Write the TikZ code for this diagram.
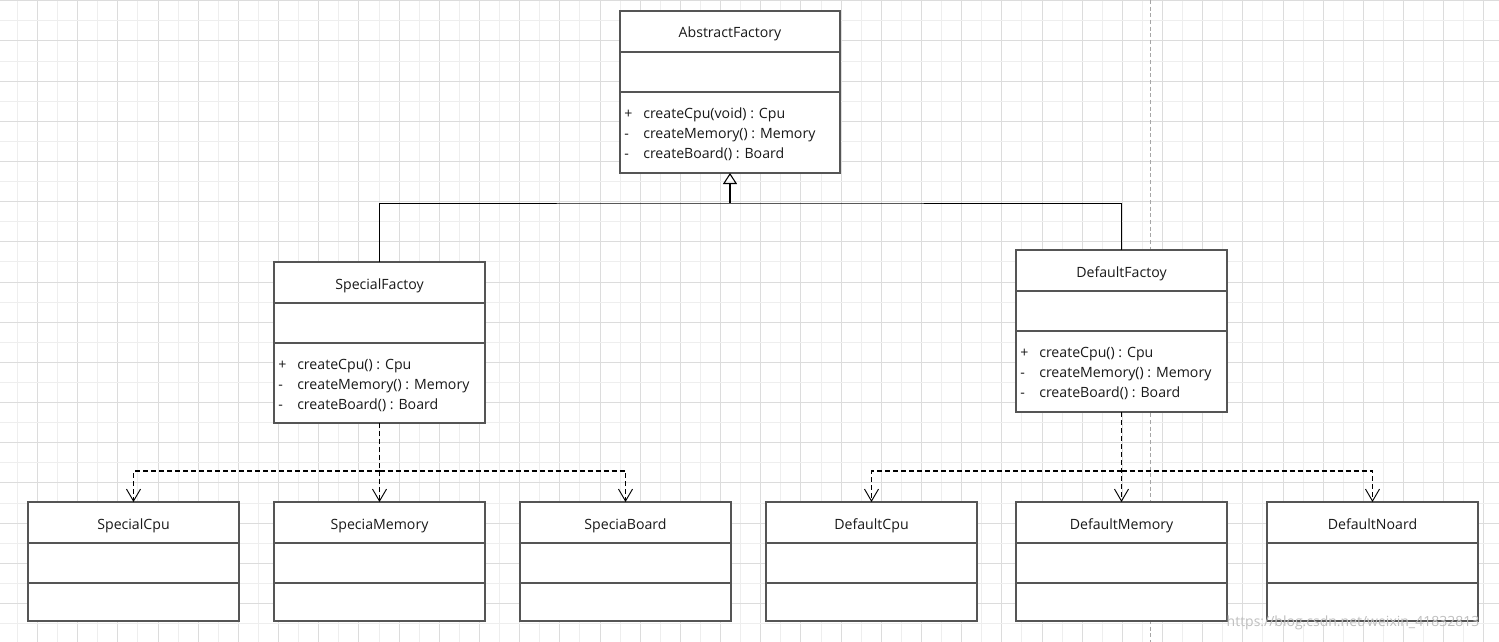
\documentclass[tikz,border=0pt]{standalone}
\usepackage{fontspec}
\setmainfont{Open Sans}
\usetikzlibrary{calc,arrows.meta}
\definecolor{gridminor}{HTML}{EEEEEE}
\definecolor{gridmajor}{HTML}{DCDCDC}
\definecolor{boxgray}{HTML}{555555}
\tikzset{
	classbox/.style={draw=boxgray, fill=white, line width=0.9pt, inner sep=0pt, outer sep=0pt, anchor=north west},
	boxline/.style={draw=boxgray, line width=0.9pt},
	classname/.style={anchor=base, inner sep=0pt, font=\fontsize{10.6}{12}\selectfont, text=black!90},
	member/.style={anchor=base west, inner sep=0pt, font=\fontsize{10.6}{12}\selectfont, text=black!90},
	inherit/.style={line width=0.75pt},
	realize/.style={line width=0.8pt, dash pattern=on 3.75pt off 2.25pt, -{Straight Barb[length=9pt,width=10.5pt,line width=0.7pt]}},
}
\def\umlclass(#1)(#2,#3)(#4:#5)#6{%
	\node[classbox, minimum width=#4*0.75pt, minimum height=#5*0.75pt] (#1) at (#2,#3) {};
	\draw[boxline] ($(#1.north west)+(0,41)$) -- ($(#1.north east)+(0,41)$);
	\draw[boxline] ($(#1.north west)+(0,81)$) -- ($(#1.north east)+(0,81)$);
	\node[classname] (#1-name) at ($(#1.north)+(0,27)$) {#6};
}
\def\umlops(#1)#2{%
	\foreach \sign/\op [count=\i] in {#2}{
		\node[member] (#1-s\i) at ($(#1.north west)+(4,87+20*\i)$) {\sign};
		\node[member] (#1-m\i) at ($(#1.north west)+(23,87+20*\i)$) {\op};
	}
}

\begin{document}
\begin{tikzpicture}[x=0.75pt, y=-0.75pt]
		%%%%% START %%%%%
		\useasboundingbox[fill=white] (0,0) rectangle (1499,642);
		
		% grid
		\foreach \i in {0,...,37} \draw[gridminor, line width=0.6pt] ({17.3+40.18*\i},0) -- ++(0,642);
		\foreach \i in {0,...,36} \draw[gridmajor, line width=0.6pt] ({37.4+40.18*\i},0) -- ++(0,642);
		\foreach \i in {0,...,15} \draw[gridminor, line width=0.6pt] (0,{20.8+40.18*\i}) -- ++(1499,0);
		\foreach \i in {0,...,16} \draw[gridmajor, line width=0.6pt] (0,{0.7+40.18*\i}) -- ++(1499,0);
		
		% page break
		\draw[black!35, line width=0.6pt, dash pattern=on 3pt off 2pt] (1150,0) -- (1150,642);
		
		% factories
		\umlclass(abs)(620,11)(220:162){AbstractFactory}
		\umlops(abs){+/createCpu(void) : Cpu, -/createMemory() : Memory, -/createBoard() : Board}
		
		\umlclass(spf)(274,262)(211:161){SpecialFactoy}
		\umlops(spf){+/createCpu() : Cpu, -/createMemory() : Memory, -/createBoard() : Board}
		
		\umlclass(dff)(1016,250)(211:162){DefaultFactoy}
		\umlops(dff){+/createCpu() : Cpu, -/createMemory() : Memory, -/createBoard() : Board}
		
		% products
		\umlclass(spcpu)(28,502)(211:119){SpecialCpu}
		\umlclass(spmem)(274,502)(211:119){SpeciaMemory}
		\umlclass(spbrd)(520,502)(211:119){SpeciaBoard}
		\umlclass(dfcpu)(766,502)(211:119){DefaultCpu}
		\umlclass(dfmem)(1016,502)(211:119){DefaultMemory}
		\umlclass(dfbrd)(1267,502)(211:119){DefaultNoard}
		
		% inheritance
		\coordinate (join) at (730,203);
		\draw[inherit] (spf.north) |- (join) -| (dff.north);
		\draw[line width=1.5pt, -{Triangle[open,length=8.25pt,width=10.5pt,line width=0.8pt]}] (join) -- (abs.south);
		
		% dependencies
		\coordinate (spjoin) at (379.5,471);
		\coordinate (dfjoin) at (1121.5,471);
		\draw[realize] (spf.south) -- (spmem.north);
		\draw[realize] (spjoin) -| (spcpu.north);
		\draw[realize] (spjoin) -| (spbrd.north);
		\draw[realize] (dff.south) -- (dfmem.north);
		\draw[realize] (dfjoin) -| (dfcpu.north);
		\draw[realize] (dfjoin) -| (dfbrd.north);
		
		% watermark
		\node[font=\fontsize{10.5}{12}\selectfont, text=black!25] (mark) at (1353,623) {https://blog.csdn.net/weixin\_41832813};
		
		%%%%% END %%%%%
\end{tikzpicture}
\end{document}
